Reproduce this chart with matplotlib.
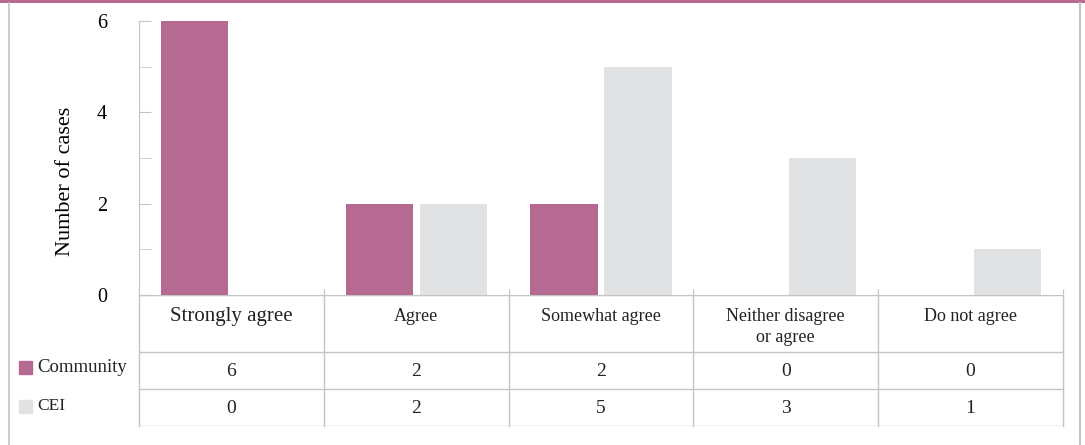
import numpy as np
import matplotlib
matplotlib.use('Agg')
import matplotlib.pyplot as plt
from matplotlib.patches import Rectangle
from matplotlib.lines import Line2D

plt.rcParams['font.family'] = ['Liberation Serif', 'DejaVu Serif']

categories = ['Strongly agree', 'Agree', 'Somewhat agree', 'Neither disagree\nor agree', 'Do not agree']
community = [6, 2, 2, 0, 0]
cei = [0, 2, 5, 3, 1]
series_names = ['Community', 'CEI']
colors = ['#b66991', '#e1e2e4']
grid_col = '#c4c4c4'

W, H = 1085, 445
fig = plt.figure(figsize=(W / 100, H / 100), dpi=100)

def fx(px):
    return px / W

def fy(py):
    return (H - py) / H

# outer frame
fig.add_artist(Line2D([0, 1], [fy(1), fy(1)], color='#b66991', lw=2.2, transform=fig.transFigure))
fig.add_artist(Line2D([fx(9), fx(9)], [fy(3), 0], color=grid_col, lw=1.2, transform=fig.transFigure))
fig.add_artist(Line2D([fx(1080), fx(1080)], [fy(3), 0], color=grid_col, lw=1.5, transform=fig.transFigure))

x0, x1, ytop, ybase, ytab = 139, 1063, 21, 295, 426
ax = fig.add_axes([fx(x0), fy(ybase), fx(x1 - x0), (ybase - ytop) / H])
x = np.arange(len(categories))
ax.bar(x - 0.2, community, width=0.363, color=colors[0])
ax.bar(x + 0.2, cei, width=0.363, color=colors[1])
ax.set_xlim(-0.5, len(categories) - 0.5)
ax.set_ylim(0, 6)
for s in ['top', 'right']:
    ax.spines[s].set_visible(False)
ax.spines['left'].set_color(grid_col)
ax.spines['bottom'].set_color(grid_col)
ax.set_yticks([0, 2, 4, 6])
ax.set_yticks([1, 3, 5], minor=True)
ax.tick_params(axis='y', which='both', direction='in', length=8.6, color=grid_col, pad=23, labelsize=14.5)
ax.set_xticks(np.arange(len(categories) + 1) - 0.5)
ax.tick_params(axis='x', direction='in', length=4.5, color=grid_col, labelbottom=False)
ax.set_ylabel('Number of cases', fontsize=16)
ax.yaxis.set_label_coords(-0.080, 0.416)
ax.yaxis.label.set_va('center')

# data table under the chart
tab = fig.add_axes([fx(x0), fy(ytab), fx(x1 - x0), (ytab - ybase) / H])
tab.set_xlim(-0.5, len(categories) - 0.5)
tab.set_ylim(ytab - ybase, 0)
tab.axis('off')
rows = [0, 57, 94, 131]
for r in rows:
    tab.axhline(r, color=grid_col, lw=1)
for b in np.arange(len(categories) + 1) - 0.5:
    tab.plot([b, b], [0, 131], color=grid_col, lw=1, clip_on=False)
for i, lab in enumerate(categories):
    fs = 15 if i == 0 else 13
    for j, line in enumerate(lab.split('\n')):
        tab.text(i, 26 + 21 * j, line, ha='center', va='baseline', fontsize=fs, color='#222222')
for k, vals in enumerate([community, cei]):
    yc = (rows[k + 1] + rows[k + 2]) / 2 + 1
    for i, v in enumerate(vals):
        tab.text(i, yc, str(v), ha='center', va='center', fontsize=14, color='#222222')

# legend keys at row starts
leg_y = [367, 406]
for name, c, yy in zip(series_names, colors, leg_y):
    fig.add_artist(Rectangle((fx(19), fy(yy + 6.5)), fx(13), 13 / H, color=c, transform=fig.transFigure))
    fig.text(fx(37), fy(yy), name, ha='left', va='center', fontsize=13.5 if name == 'Community' else 12.5, color='#222222')

fig.savefig('out.png', dpi=100)
